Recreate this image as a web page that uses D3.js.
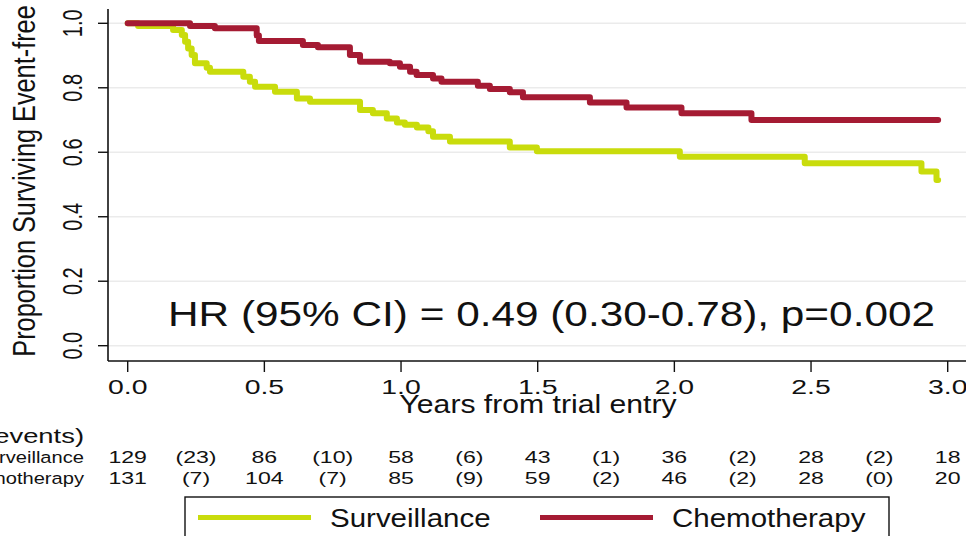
<!DOCTYPE html>
<html>
<head>
<meta charset="utf-8">
<script src="https://cdn.jsdelivr.net/npm/d3@7"></script>
<style>
  body { margin: 0; background: #fff; }
  svg { font-family: "Liberation Sans", Arial, sans-serif; display: block; }
</style>
</head>
<body>
<svg width="966" height="536"></svg>
<script>
// Kaplan-Meier steps
survTimes = [0, 0.038, 0.166, 0.198, 0.21, 0.221, 0.234, 0.246, 0.289, 0.301, 0.423, 0.447, 0.466, 0.539, 0.619, 0.667, 0.85, 0.897, 0.948, 0.985, 1.014, 1.058, 1.1, 1.117, 1.179, 1.398, 1.497, 2.02, 2.477, 2.904, 2.959, 2.965]
survProb  = [1.0, 0.992, 0.979, 0.964, 0.943, 0.922, 0.902, 0.876, 0.862, 0.85, 0.834, 0.819, 0.803, 0.788, 0.767, 0.757, 0.731, 0.721, 0.705, 0.692, 0.685, 0.677, 0.665, 0.648, 0.633, 0.615, 0.603, 0.586, 0.566, 0.54, 0.514, 0.514]
chemoTimes = [0, 0.228, 0.319, 0.472, 0.48, 0.641, 0.696, 0.813, 0.85, 0.959, 0.996, 1.033, 1.057, 1.117, 1.148, 1.281, 1.325, 1.398, 1.446, 1.691, 1.825, 2.026, 2.282, 2.965]
chemoProb  = [1.0, 0.992, 0.985, 0.962, 0.945, 0.933, 0.926, 0.902, 0.881, 0.876, 0.865, 0.85, 0.84, 0.829, 0.819, 0.806, 0.796, 0.786, 0.771, 0.754, 0.739, 0.721, 0.70, 0.70]

// number at risk table
riskTimes = [0, 0.5, 1, 1.5, 2, 2.5, 3]
survAtRisk = [129, 86, 58, 43, 36, 28, 18]
survEvents = [23, 10, 6, 1, 2, 2]
chemoAtRisk = [131, 104, 85, 59, 46, 28, 20]
chemoEvents = [7, 7, 9, 2, 2, 0]

xTicks = [0, 0.5, 1, 1.5, 2, 2.5, 3]
yTicks = [0, 0.2, 0.4, 0.6, 0.8, 1.0]

GREEN = '#c9dc0c'
RED = '#a51b33'
INK = '#111'
AXIS_X = 108
AXIS_Y = 361
PLOT_TOP = 9

svg = d3.select('svg')

x = d3.scaleLinear().domain([0, 3]).range([127.7, 947.7])
y = d3.scaleLinear().domain([0, 1]).range([345.7, 23.3])

// the picture is stretched sideways, so texts get a horizontal scale
function label(parent, px, py, str, size, sx, anchor, rot) {
  return parent.append('text')
    .attr('transform', 'translate(' + px + ',' + py + ') scale(' + sx + ',1)' + (rot ? ' rotate(' + rot + ')' : ''))
    .attr('text-anchor', anchor || 'start')
    .attr('font-size', size)
    .attr('fill', INK)
    .text(str)
}

// grid
svg.append('g')
  .selectAll('line')
  .data(yTicks)
  .enter()
  .append('line')
  .attr('x1', AXIS_X)
  .attr('x2', 966)
  .attr('y1', function (d) { return y(d); })
  .attr('y2', function (d) { return y(d); })
  .attr('stroke', '#ebebeb')
  .attr('stroke-width', 1.5)

// axes lines
svg.append('line')
  .attr('x1', AXIS_X).attr('x2', AXIS_X)
  .attr('y1', PLOT_TOP).attr('y2', AXIS_Y)
  .attr('stroke', INK).attr('stroke-width', 1.6)
svg.append('line')
  .attr('x1', AXIS_X).attr('x2', 966)
  .attr('y1', AXIS_Y).attr('y2', AXIS_Y)
  .attr('stroke', INK).attr('stroke-width', 1.6)

// y ticks + rotated labels
yg = svg.append('g')
yTicks.forEach(function (d) {
  yg.append('line')
    .attr('x1', 98).attr('x2', AXIS_X)
    .attr('y1', y(d)).attr('y2', y(d))
    .attr('stroke', INK).attr('stroke-width', 1.4)
  label(yg, 82, y(d), d.toFixed(1), 20, 1.4, 'middle', -90)
})

// x ticks
xg = svg.append('g')
xTicks.forEach(function (d) {
  xg.append('line')
    .attr('x1', x(d)).attr('x2', x(d))
    .attr('y1', AXIS_Y).attr('y2', 372)
    .attr('stroke', INK).attr('stroke-width', 1.4)
  label(xg, x(d), 394, d.toFixed(1), 20, 1.42, 'middle')
})

// axis titles
label(svg, 538, 413, 'Years from trial entry', 26, 1.16, 'middle')
label(svg, 35, 181, 'Proportion Surviving Event-free', 25.3, 1.27, 'middle', -90)

// KM curves
line = d3.line()
  .x(function (d) { return x(d[0]); })
  .y(function (d) { return y(d[1]); })
  .curve(d3.curveStepAfter)

svg.append('path')
  .datum(d3.zip(survTimes, survProb))
  .attr('d', line)
  .attr('fill', 'none')
  .attr('stroke', GREEN)
  .attr('stroke-width', 6)
  .attr('stroke-linejoin', 'round')
  .attr('stroke-linecap', 'round')
svg.append('path')
  .datum(d3.zip(chemoTimes, chemoProb))
  .attr('d', line)
  .attr('fill', 'none')
  .attr('stroke', RED)
  .attr('stroke-width', 6)
  .attr('stroke-linejoin', 'round')
  .attr('stroke-linecap', 'round')

// hazard ratio note
label(svg, 168, 326, 'HR (95% CI) = 0.49 (0.30-0.78), p=0.002', 35, 1.21)

// risk table
label(svg, 84, 443, 'Number at risk (events)', 20, 1.37, 'end')

function riskRow(name, atRisk, events, yPos) {
  g = svg.append('g')
  label(g, 84, yPos, name, 16.5, 1.22, 'end')
  atRisk.forEach(function (d, i) {
    label(g, x(riskTimes[i]), yPos, d, 16.5, 1.4, 'middle')
  })
  events.forEach(function (d, i) {
    label(g, x((riskTimes[i] + riskTimes[i + 1]) / 2), yPos, '(' + d + ')', 16.5, 1.4, 'middle')
  })
}
riskRow('Surveillance', survAtRisk, survEvents, 463)
riskRow('Chemotherapy', chemoAtRisk, chemoEvents, 484)

// legend
svg.append('rect')
  .attr('x', 185).attr('y', 497)
  .attr('width', 704).attr('height', 60)
  .attr('fill', '#fff')
  .attr('stroke', INK)
  .attr('stroke-width', 1.4)
legendItems = [['Surveillance', GREEN, 198], ['Chemotherapy', RED, 540]]
legendItems.forEach(function (d) {
  svg.append('line')
    .attr('x1', d[2]).attr('x2', d[2] + 113)
    .attr('y1', 517.5).attr('y2', 517.5)
    .attr('stroke', d[1])
    .attr('stroke-width', 5)
  label(svg, d[2] + 132, 527, d[0], 25, 1.18)
})
</script>
</body>
</html>
